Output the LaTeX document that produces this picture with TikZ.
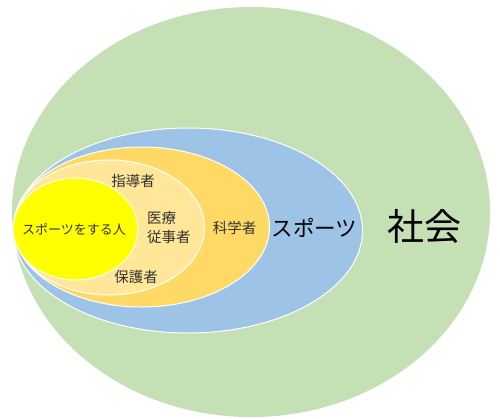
\documentclass[tikz,border=0pt]{standalone}
\usepackage{fontspec}
\newfontfamily\jp{Noto Sans CJK JP}
\definecolor{cGreen}{HTML}{C5E0B4}
\definecolor{cBlue}{HTML}{9DC3E6}
\definecolor{cOrange}{HTML}{FFD966}
\definecolor{cLight}{HTML}{FFE699}
\definecolor{cYellow}{HTML}{FFFF00}
\definecolor{cText}{HTML}{333333}
\begin{document}
\begin{tikzpicture}[x=1pt,y=-1pt,
  ring/.style={draw=white,line width=1pt},
  lbl/.style={font=\jp\fontsize{#1}{19}\selectfont,text=cText,inner sep=0pt},
  big/.style={font=\jp\fontsize{#1}{#1}\selectfont,text=black,inner sep=0pt}]
\useasboundingbox (0,0) rectangle (500,418);
\fill[white] (0,0) rectangle (500,418);
\fill[cGreen] (251,212) ellipse [x radius=239, y radius=205];
\draw[ring,fill=cBlue] (188,230.5) ellipse [x radius=174.5, y radius=102.5];
\draw[ring,fill=cOrange] (141.5,227) ellipse [x radius=128, y radius=80];
\draw[ring,fill=cLight] (109,227.5) ellipse [x radius=95.5, y radius=67.5];
\draw[ring,fill=cYellow] (75.5,229) ellipse [x radius=62.5, y radius=51];
\node[lbl=13] (person) at (74,229) {スポーツをする人};
\node[lbl=14.5] (coach) at (133,181) {指導者};
\node[lbl=14.5,align=left,anchor=west] (medic) at (147,228) {医療\\従事者};
\node[lbl=14.5] (guard) at (136,277) {保護者};
\node[lbl=14.5] (sci) at (234.5,228) {科学者};
\node[big=21.5] (sport) at (314.5,228) {スポーツ};
\node[big=37] (soc) at (424,226) {社会};
\end{tikzpicture}
\end{document}
